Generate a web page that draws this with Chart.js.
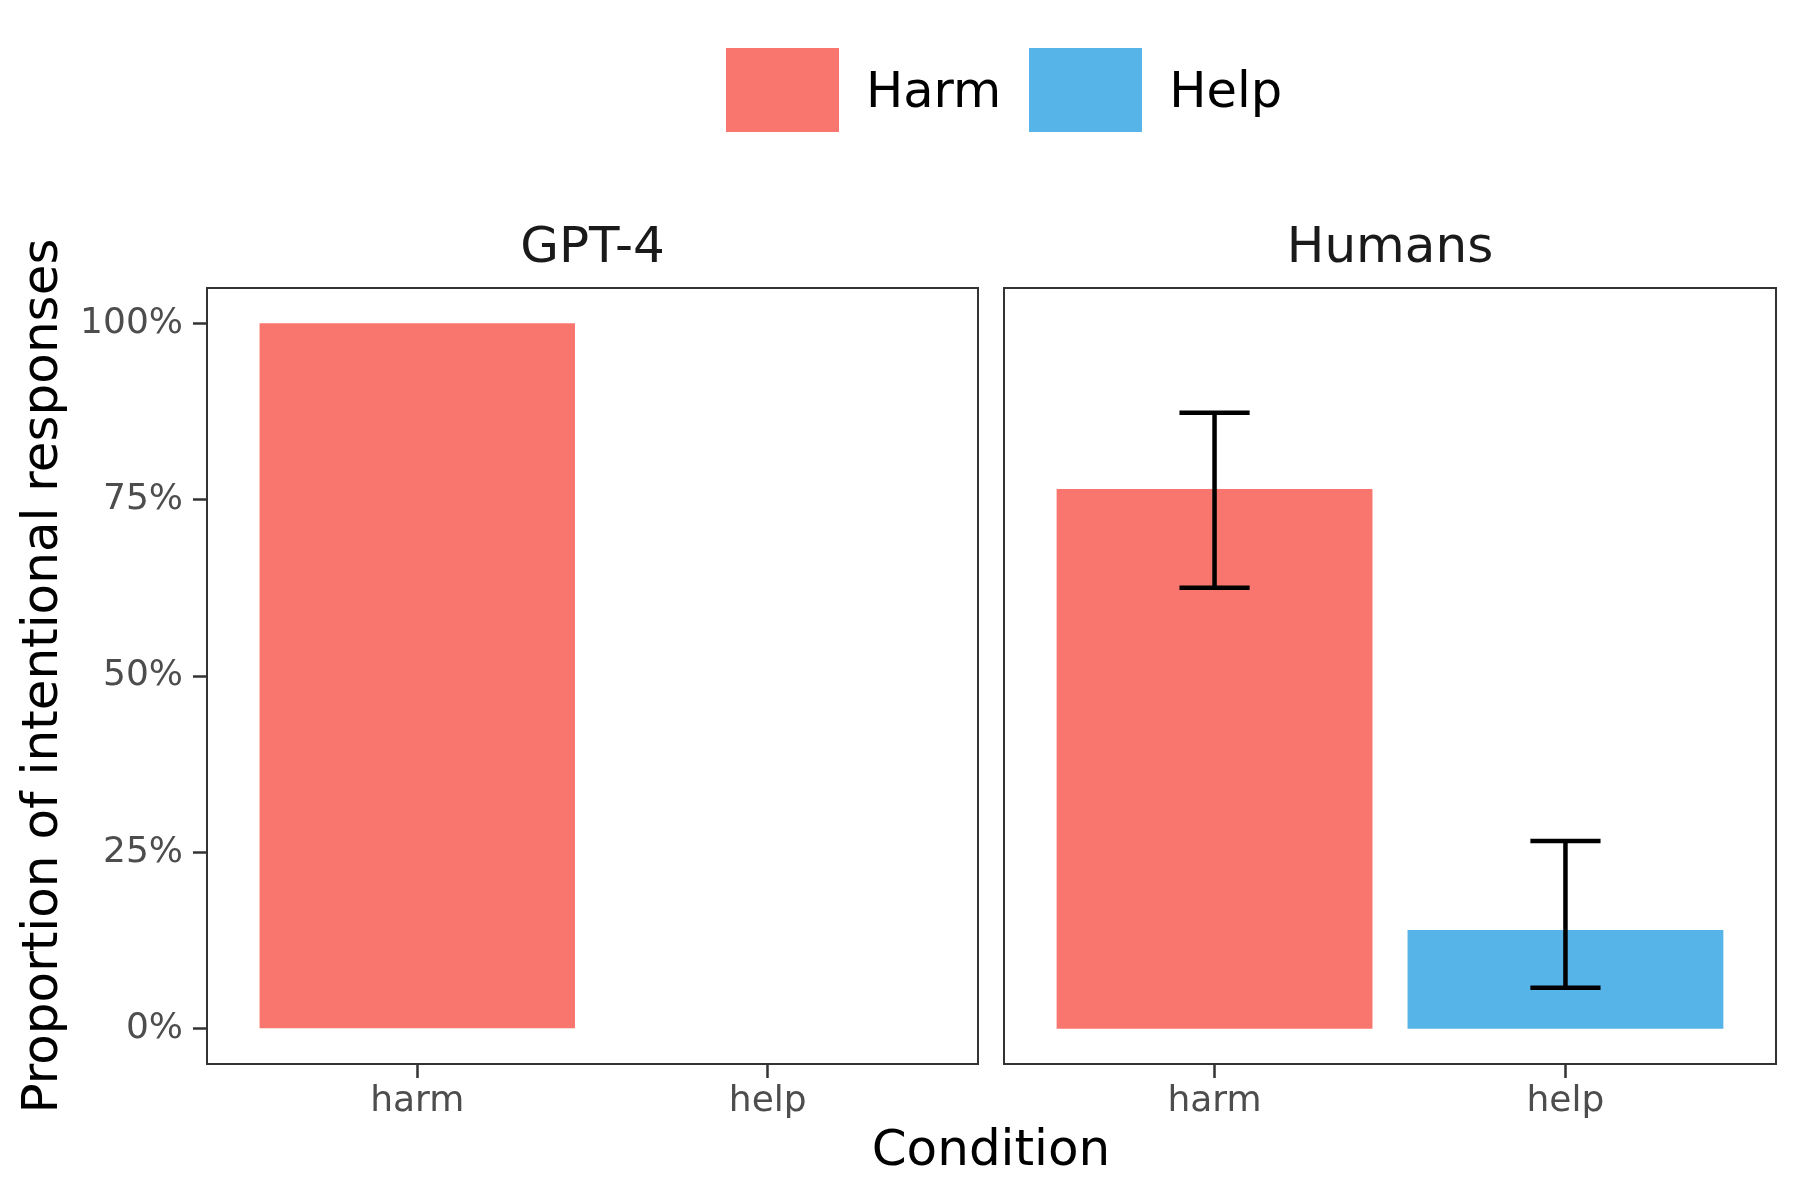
<!DOCTYPE html>
<html>
<head>
<meta charset="utf-8">
<script src="https://cdn.jsdelivr.net/npm/chart.js@4"></script>
<style>
  html, body { margin: 0; padding: 0; background: #fff; }
  #wrap { position: relative; width: 1800px; height: 1200px; background: #fff; font-family: "DejaVu Sans", sans-serif; overflow: hidden; }
  canvas { position: absolute; }
  #legend { position: absolute; left: 726px; top: 48px; height: 84px; display: flex; align-items: center; }
  .sw { width: 113px; height: 84px; display: inline-block; }
  .lt { font-size: 49.5px; color: #000; margin-left: 27px; margin-right: 28px; line-height: 84px; }
  #xtitle { position: absolute; left: 0; width: 1982px; top: 1118px; text-align: center; font-size: 50px; color: #000; line-height: 60px; }
</style>
</head>
<body>
<div id="wrap">
  <div id="legend"></div>
  <canvas id="c1" width="990" height="934" style="left:0px;top:190px;width:990px;height:934px;"></canvas>
  <canvas id="c2" width="800" height="934" style="left:990px;top:190px;width:800px;height:934px;"></canvas>
  <div id="xtitle">Condition</div>
</div>
<script>
// ---- Data ----
const categories = ['harm', 'help'];
const panelTitles = ['GPT-4', 'Humans'];
const seriesNames = ['Harm', 'Help'];
const seriesColors = ['#F8766D', '#56B4E9'];
const gptValues = [100, 0];
const humanValues = [76.5, 14.0];
const humanErrLow = [62.5, 5.8];
const humanErrHigh = [87.3, 26.6];
const yTickValues = [0, 25, 50, 75, 100];
const yAxisTitle = 'Proportion of intentional responses';
const xAxisTitle = 'Condition';

// ---- Legend (HTML) ----
const legendEl = document.getElementById('legend');
seriesNames.forEach((name, i) => {
  const sw = document.createElement('span');
  sw.className = 'sw';
  sw.style.background = seriesColors[i];
  const t = document.createElement('span');
  t.className = 'lt';
  t.textContent = name;
  if (i === seriesNames.length - 1) t.style.marginRight = '0px';
  legendEl.appendChild(sw);
  legendEl.appendChild(t);
});
document.getElementById('xtitle').textContent = xAxisTitle;

const FONT = '"DejaVu Sans", sans-serif';

const borderPlugin = {
  id: 'panelBorder',
  afterDraw(chart) {
    const a = chart.chartArea;
    const ctx = chart.ctx;
    ctx.save();
    ctx.strokeStyle = '#333333';
    ctx.lineWidth = 2;
    ctx.strokeRect(a.left, a.top, a.right - a.left, a.bottom - a.top);
    ctx.restore();
  }
};

const errorBarPlugin = {
  id: 'errorBars',
  afterDatasetsDraw(chart, args, opts) {
    if (!opts || !opts.low) return;
    const xs = chart.scales.x, ys = chart.scales.y;
    const ctx = chart.ctx;
    ctx.save();
    ctx.strokeStyle = '#000';
    ctx.lineWidth = 4.5;
    ctx.lineCap = 'butt';
    opts.low.forEach((lo, i) => {
      const hi = opts.high[i];
      const xc = xs.getPixelForValue(i + 1);
      const hw = xs.getPixelForValue(i + 1 + opts.halfWidth) - xc;
      const yl = ys.getPixelForValue(lo);
      const yh = ys.getPixelForValue(hi);
      ctx.beginPath();
      ctx.moveTo(xc, yl); ctx.lineTo(xc, yh);
      ctx.moveTo(xc - hw, yl); ctx.lineTo(xc + hw, yl);
      ctx.moveTo(xc - hw, yh); ctx.lineTo(xc + hw, yh);
      ctx.stroke();
    });
    ctx.restore();
  }
};

function makeChart(canvasId, title, values, showY, padding, err) {
  return new Chart(document.getElementById(canvasId), {
    type: 'bar',
    data: {
      datasets: [{
        label: title,
        data: categories.map((c, i) => ({ x: i + 1, y: values[i] })),
        backgroundColor: categories.map((c, i) => seriesColors[i]),
        borderWidth: 0,
        barPercentage: 0.9,
        categoryPercentage: 1.0
      }]
    },
    options: {
      responsive: false,
      animation: false,
      devicePixelRatio: 1,
      layout: { padding: padding },
      plugins: {
        legend: { display: false },
        tooltip: { enabled: false },
        title: {
          display: true,
          fullSize: false,
          text: title,
          color: '#1A1A1A',
          font: { family: FONT, size: 50, weight: 'normal' },
          padding: { top: 29, bottom: 9 }
        },
        errorBars: err || {}
      },
      scales: {
        x: {
          type: 'linear',
          min: 0.4,
          max: 2.6,
          offset: false,
          afterBuildTicks(scale) { scale.ticks = categories.map((c, i) => ({ value: i + 1 })); },
          afterFit(scale) { scale.height = 60; },
          ticks: {
            callback: (v, idx) => categories[idx],
            color: '#4D4D4D',
            font: { family: FONT, size: 36 },
            padding: 2,
            maxRotation: 0,
            autoSkip: false
          },
          grid: { display: true, offset: false, drawOnChartArea: false, drawTicks: true, tickLength: 14, tickColor: '#333333', tickWidth: 2.5 },
          border: { display: false }
        },
        y: {
          display: showY,
          min: -5,
          max: 105,
          afterBuildTicks(scale) { scale.ticks = yTickValues.map(v => ({ value: v })); },
          afterFit(scale) { if (showY) scale.width = 207; },
          ticks: {
            callback: (v) => v + '%',
            color: '#4D4D4D',
            font: { family: FONT, size: 36 },
            padding: 10,
            autoSkip: false
          },
          grid: { display: true, drawOnChartArea: false, drawTicks: true, tickLength: 14, tickColor: '#333333', tickWidth: 2.5 },
          border: { display: false },
          title: {
            display: true,
            text: yAxisTitle,
            color: '#000',
            font: { family: FONT, size: 50 },
            padding: { top: 14, bottom: 0 }
          }
        }
      }
    },
    plugins: [borderPlugin, errorBarPlugin]
  });
}

makeChart('c1', panelTitles[0], gptValues, true, { left: 0, right: 12, top: 0, bottom: 0 }, null);
makeChart('c2', panelTitles[1], humanValues, false, { left: 14, right: 14, top: 0, bottom: 0 },
  { low: humanErrLow, high: humanErrHigh, halfWidth: 0.1 });
</script>
</body>
</html>
